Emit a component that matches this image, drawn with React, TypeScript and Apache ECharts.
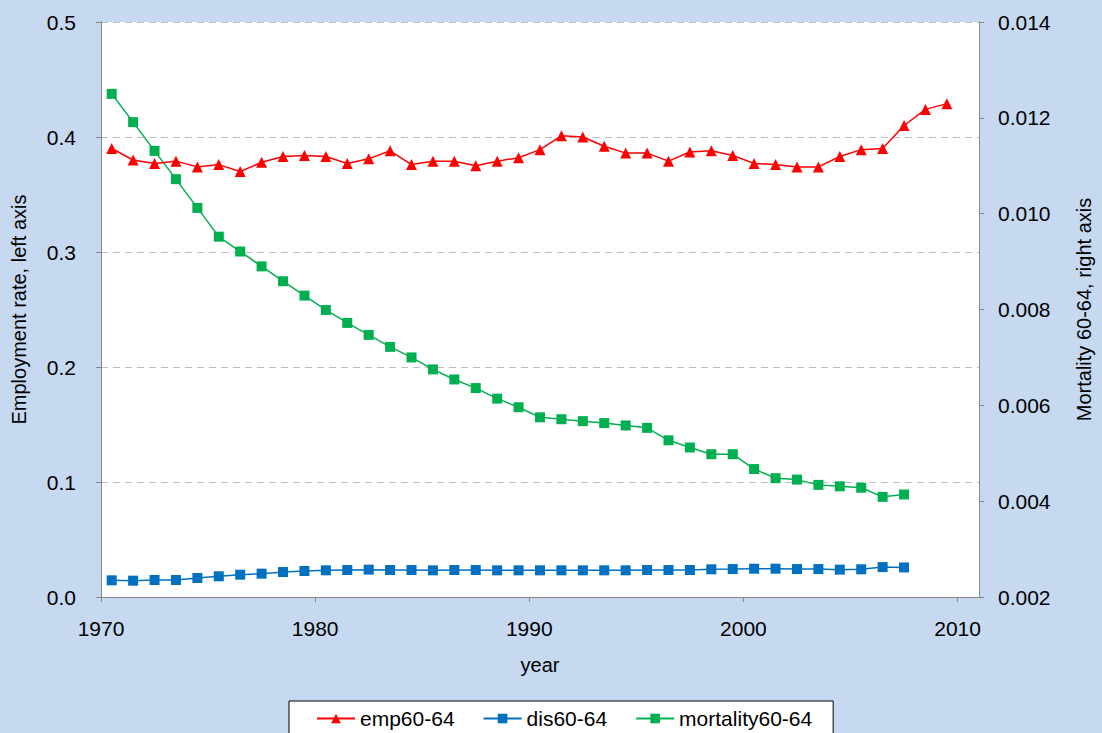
import { useEffect, useRef } from 'react';
import * as echarts from 'echarts';

// x positions of the yearly observations (mid-year)
const empYears = [
  1970.5, 1971.5, 1972.5, 1973.5, 1974.5, 1975.5, 1976.5, 1977.5, 1978.5, 1979.5,
  1980.5, 1981.5, 1982.5, 1983.5, 1984.5, 1985.5, 1986.5, 1987.5, 1988.5, 1989.5,
  1990.5, 1991.5, 1992.5, 1993.5, 1994.5, 1995.5, 1996.5, 1997.5, 1998.5, 1999.5,
  2000.5, 2001.5, 2002.5, 2003.5, 2004.5, 2005.5, 2006.5, 2007.5, 2008.5, 2009.5,
];
const otherYears = [
  1970.5, 1971.5, 1972.5, 1973.5, 1974.5, 1975.5, 1976.5, 1977.5, 1978.5, 1979.5,
  1980.5, 1981.5, 1982.5, 1983.5, 1984.5, 1985.5, 1986.5, 1987.5, 1988.5, 1989.5,
  1990.5, 1991.5, 1992.5, 1993.5, 1994.5, 1995.5, 1996.5, 1997.5, 1998.5, 1999.5,
  2000.5, 2001.5, 2002.5, 2003.5, 2004.5, 2005.5, 2006.5, 2007.5,
];

const emp = [
  0.390, 0.380, 0.377, 0.379, 0.374, 0.376, 0.370, 0.378, 0.383, 0.384,
  0.383, 0.377, 0.381, 0.388, 0.376, 0.379, 0.379, 0.375, 0.379, 0.382,
  0.389, 0.401, 0.400, 0.392, 0.386, 0.386, 0.379, 0.387, 0.388, 0.384,
  0.377, 0.376, 0.374, 0.374, 0.383, 0.389, 0.390, 0.410, 0.424, 0.429,
];
const dis = [
  0.0145, 0.0142, 0.0148, 0.0148, 0.0165, 0.0180, 0.0194, 0.0203, 0.0217, 0.0226,
  0.0232, 0.0235, 0.0238, 0.0235, 0.0235, 0.0232, 0.0235, 0.0235, 0.0232, 0.0232,
  0.0232, 0.0232, 0.0232, 0.0232, 0.0232, 0.0235, 0.0235, 0.0235, 0.0241, 0.0243,
  0.0246, 0.0246, 0.0243, 0.0243, 0.0238, 0.0241, 0.0260, 0.0257,
];
const mortality = [
  0.01250, 0.01191, 0.01131, 0.01072, 0.01012, 0.00952, 0.00921, 0.00890, 0.00859, 0.00829,
  0.00799, 0.00772, 0.00747, 0.00722, 0.00700, 0.00675, 0.00654, 0.00636, 0.00614, 0.00596,
  0.00575, 0.00571, 0.00567, 0.00563, 0.00558, 0.00553, 0.00527, 0.00512, 0.00498, 0.00498,
  0.00467, 0.00448, 0.00445, 0.00434, 0.00431, 0.00428, 0.00409, 0.00414,
];

const yearTicks = [1970, 1980, 1990, 2000, 2010];

const FONT = '"Liberation Sans", Arial, sans-serif';
const AXIS_GRAY = '#868686';

export default function App() {
  const chartRef = useRef<HTMLDivElement>(null);

  useEffect(() => {
    if (!chartRef.current) return;
    document.body.style.margin = '0';

    const chart = echarts.init(chartRef.current, undefined, { renderer: 'svg' });

    const pair = (xs: number[], ys: number[]) => xs.map((x, i) => [x, ys[i]]);

    const option: echarts.EChartsOption = {
      animation: false,
      backgroundColor: '#C6D9F1',
      textStyle: { fontFamily: FONT, color: '#000' },
      grid: {
        left: 101,
        right: 119,
        top: 22,
        bottom: 136,
        show: true,
        backgroundColor: '#ffffff',
        borderWidth: 0,
      },
      legend: {
        data: ['emp60-64', 'dis60-64', 'mortality60-64'],
        left: 289,
        top: 701,
        padding: [7, 21, 20, 27],
        itemGap: 28,
        itemWidth: 38,
        itemHeight: 12,
        backgroundColor: '#ffffff',
        borderColor: '#000000',
        borderWidth: 1,
        borderRadius: 0,
        selectedMode: false,
        textStyle: { fontSize: 21, fontFamily: FONT, color: '#000' },
      },
      xAxis: {
        type: 'value',
        min: 1970,
        max: 2011,
        name: 'year',
        nameLocation: 'middle',
        nameGap: 58,
        nameTextStyle: { fontSize: 20, color: '#000' },
        axisLine: { show: true, lineStyle: { color: AXIS_GRAY, width: 1 } },
        axisTick: { show: true, length: 5, customValues: yearTicks, lineStyle: { color: AXIS_GRAY } },
        axisLabel: {
          customValues: yearTicks,
          fontSize: 21,
          color: '#000',
          margin: 21,
          formatter: (v: number) => String(v),
        },
        splitLine: { show: false },
      },
      yAxis: [
        {
          type: 'value',
          position: 'left',
          min: 0,
          max: 0.5,
          interval: 0.1,
          name: 'Employment rate, left axis',
          nameLocation: 'middle',
          nameGap: 72,
          nameTextStyle: { fontSize: 20, color: '#000' },
          axisLine: { show: true, lineStyle: { color: AXIS_GRAY, width: 1 } },
          axisTick: { show: true, length: 5, lineStyle: { color: AXIS_GRAY } },
          axisLabel: {
            fontSize: 21,
            color: '#000',
            margin: 25,
            formatter: (v: number) => v.toFixed(1),
          },
          splitLine: { show: true, lineStyle: { color: '#BFBFBF', type: [7, 5], width: 1 } },
        },
        {
          type: 'value',
          position: 'right',
          min: 0.002,
          max: 0.014,
          interval: 0.002,
          name: 'Mortality 60-64, right axis',
          nameLocation: 'middle',
          nameGap: 95,
          nameTextStyle: { fontSize: 20, color: '#000' },
          axisLine: { show: true, lineStyle: { color: AXIS_GRAY, width: 1 } },
          axisTick: { show: true, length: 5, lineStyle: { color: AXIS_GRAY } },
          axisLabel: {
            fontSize: 21,
            color: '#000',
            margin: 19,
            formatter: (v: number) => v.toFixed(3),
          },
          splitLine: { show: false },
        },
      ],
      series: [
        {
          name: 'emp60-64',
          type: 'line',
          yAxisIndex: 0,
          data: pair(empYears, emp),
          symbol: 'triangle',
          symbolSize: 11,
          lineStyle: { color: '#FF0000', width: 1.5 },
          itemStyle: { color: '#FF0000' },
          z: 4,
        },
        {
          name: 'dis60-64',
          type: 'line',
          yAxisIndex: 0,
          data: pair(otherYears, dis),
          symbol: 'rect',
          symbolSize: 10,
          lineStyle: { color: '#0070C0', width: 1.5 },
          itemStyle: { color: '#0070C0' },
          z: 3,
        },
        {
          name: 'mortality60-64',
          type: 'line',
          yAxisIndex: 1,
          data: pair(otherYears, mortality),
          symbol: 'rect',
          symbolSize: 10,
          lineStyle: { color: '#00B050', width: 1.5 },
          itemStyle: { color: '#00B050' },
          z: 2,
        },
      ],
    };

    chart.setOption(option);

    return () => {
      chart.dispose();
    };
  }, []);

  return <div ref={chartRef} style={{ width: '1102px', height: '733px' }} />;
}
